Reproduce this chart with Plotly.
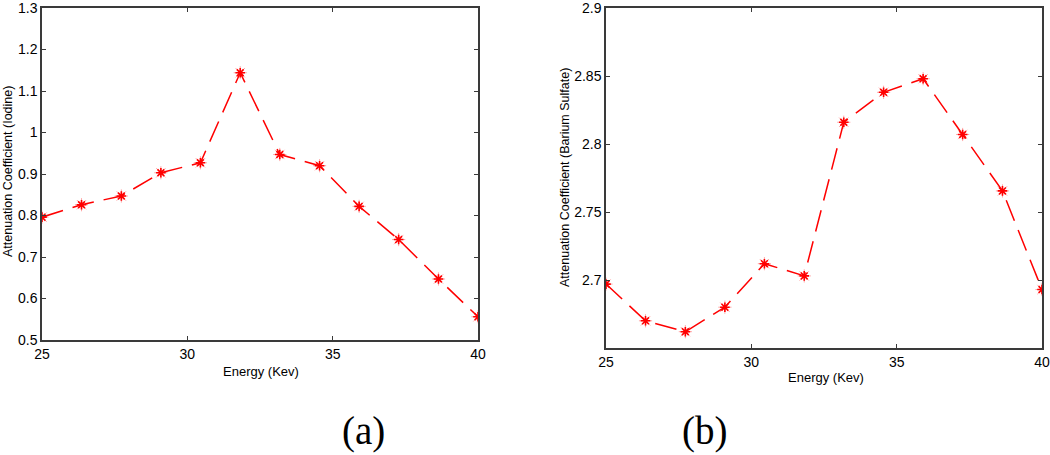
import plotly.graph_objects as go

energy = [25.0, 26.36, 27.73, 29.09, 30.45, 31.82, 33.18, 34.55, 35.91, 37.27, 38.64, 40.0]
iodine = [0.796, 0.826, 0.847, 0.903, 0.927, 1.144, 0.947, 0.920, 0.822, 0.742, 0.647, 0.556]
barium = [2.697, 2.670, 2.662, 2.680, 2.712, 2.703, 2.816, 2.838, 2.848, 2.807, 2.7655, 2.693]

x_ticks = [25, 30, 35, 40]
iodine_ticks = [0.5, 0.6, 0.7, 0.8, 0.9, 1.0, 1.1, 1.2, 1.3]
iodine_labels = ["0.5", "0.6", "0.7", "0.8", "0.9", "1", "1.1", "1.2", "1.3"]
barium_ticks = [2.7, 2.75, 2.8, 2.85, 2.9]
barium_labels = ["2.7", "2.75", "2.8", "2.85", "2.9"]

RED = "#ff0000"
W, H = 1050, 455
FONT = "Liberation Sans, Arial, sans-serif"
SERIF = "Liberation Serif, Times New Roman, serif"

fig = go.Figure()

for y, xa, ya in [(iodine, "x", "y"), (barium, "x2", "y2")]:
    fig.add_trace(go.Scatter(
        x=energy, y=y, xaxis=xa, yaxis=ya, mode="markers",
        marker=dict(symbol="asterisk-open", size=11, color="rgba(255,0,0,0.35)",
                    line=dict(color="rgba(255,0,0,0.35)", width=1)),
        hoverinfo="skip", showlegend=False))
    fig.add_trace(go.Scatter(
        x=energy, y=y, xaxis=xa, yaxis=ya, mode="lines+markers",
        line=dict(color=RED, width=1.5, dash="22px,10px"),
        marker=dict(symbol="asterisk-open", size=8, color=RED,
                    line=dict(color=RED, width=1.6)),
        showlegend=False))

def px_x(p):
    return p / W

def px_y(p):
    return (H - p) / H

axis_common = dict(
    showgrid=False, zeroline=False, showline=True, linecolor="#3a3a3a", linewidth=1.5,
    mirror="ticks", ticks="inside", ticklen=4, tickcolor="#3a3a3a", tickwidth=1,
    tickfont=dict(family=FONT, size=14, color="black"), automargin=False,
    ticklabeloverflow="allow",
)

fig.update_layout(
    width=W, height=H,
    margin=dict(l=0, r=0, t=0, b=0),
    paper_bgcolor="white", plot_bgcolor="white",
    xaxis=dict(domain=[px_x(42), px_x(478)], anchor="y", range=[25, 40],
               tickvals=x_ticks, ticktext=[str(v) for v in x_ticks], **axis_common),
    yaxis=dict(domain=[px_y(340), px_y(8)], anchor="x", range=[0.5, 1.3],
               tickvals=iodine_ticks, ticktext=iodine_labels, ticklabelstandoff=0, **axis_common),
    xaxis2=dict(domain=[px_x(606), px_x(1042)], anchor="y2", range=[25, 40],
                tickvals=x_ticks, ticktext=[str(v) for v in x_ticks], **axis_common),
    yaxis2=dict(domain=[px_y(348), px_y(8)], anchor="x2", range=[2.65, 2.9],
                tickvals=barium_ticks, ticktext=barium_labels, ticklabelstandoff=0, **axis_common),
)

annots = [
    dict(text="Energy (Kev)", x=px_x(261), y=px_y(371), size=13, angle=0, family=FONT),
    dict(text="Energy (Kev)", x=px_x(826), y=px_y(377), size=13, angle=0, family=FONT),
    dict(text="Attenuation Coefficient (Iodine)", x=px_x(8), y=px_y(172), size=12.5, angle=-90, family=FONT),
    dict(text="Attenuation Coefficient (Barium Sulfate)", x=px_x(565), y=px_y(178), size=12.5, angle=-90, family=FONT),
    dict(text="(a)", x=px_x(363), y=px_y(431), size=39, angle=0, family=SERIF),
    dict(text="(b)", x=px_x(704), y=px_y(431), size=39, angle=0, family=SERIF),
]
for a in annots:
    fig.add_annotation(text=a["text"], x=a["x"], y=a["y"], xref="paper", yref="paper",
                       showarrow=False, textangle=a["angle"], xanchor="center", yanchor="middle",
                       font=dict(family=a["family"], size=a["size"], color="black"))

fig.write_html("out.html", config={"displayModeBar": False},
               post_script="document.body.style.margin='0';document.body.style.overflow='hidden';")
